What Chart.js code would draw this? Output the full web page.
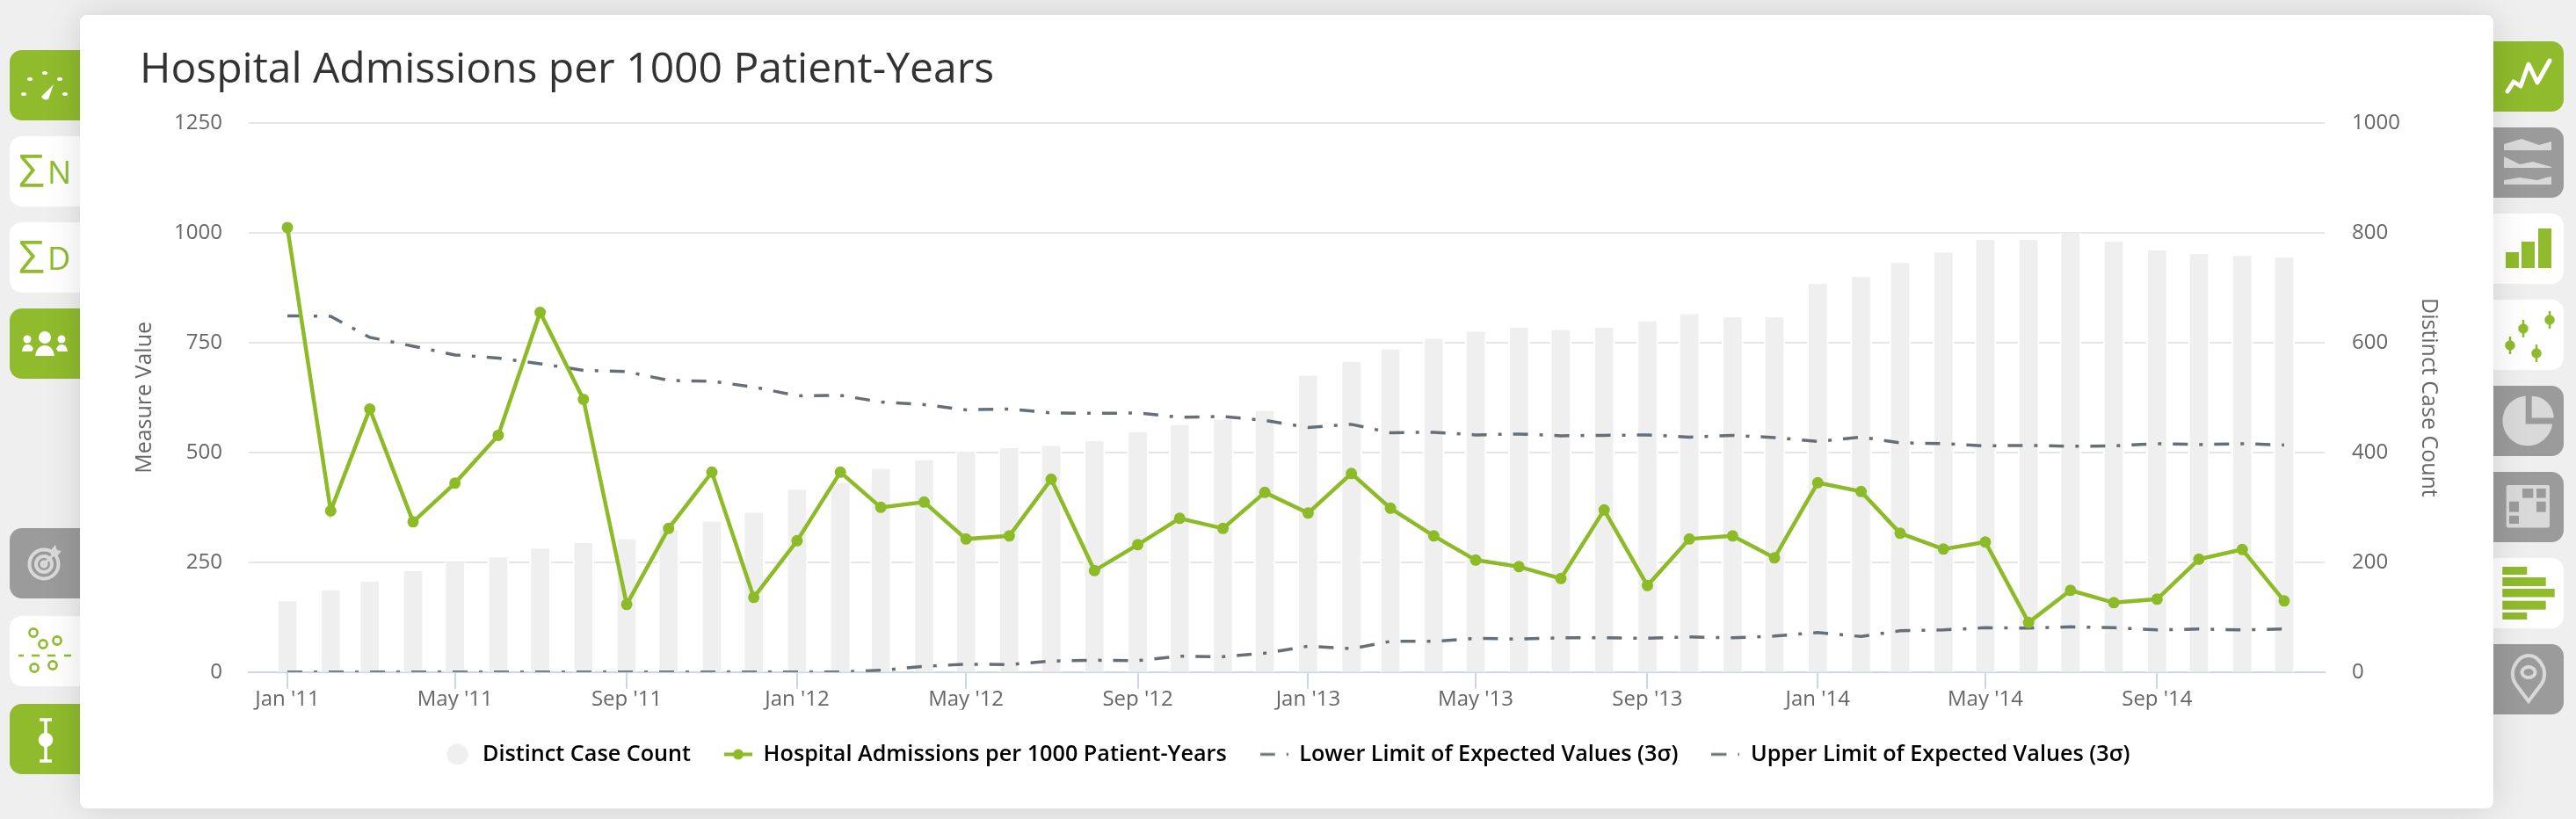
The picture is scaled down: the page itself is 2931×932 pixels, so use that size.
<!DOCTYPE html>
<html>
<head>
<meta charset="utf-8">
<title>Hospital Admissions per 1000 Patient-Years</title>
<script src="https://cdn.jsdelivr.net/npm/chart.js@4"></script>
<style>
  html, body { margin: 0; padding: 0; width: 2931px; height: 932px; overflow: hidden; background: #efefef; font-family: "Open Sans", sans-serif; }
  .tab { position: absolute; width: 80px; height: 80px; }
  .tab svg { display: block; position: absolute; left: 0; top: 0; }
  .left { left: 11px; border-radius: 14px 0 0 14px; }
  .right { left: 2837px; border-radius: 0 14px 14px 0; }
  .green { background: #8fbb2d; }
  .grey { background: #9b9b9b; }
  .white { background: #fff; }
  #card { position: absolute; left: 91px; top: 17px; width: 2746px; height: 903px; background: #fff; border-radius: 8px; box-shadow: 0 0 40px rgba(0,0,0,.13); }
  #chart { position: absolute; left: 0; top: 0; }
</style>
</head>
<body>

<!-- left tabs -->
<div class="tab left green" style="top:57px"><svg width="80" height="80" fill="#fff">
  <ellipse cx="23" cy="33" rx="3" ry="2"/><ellipse cx="40" cy="26" rx="3" ry="2"/><ellipse cx="57" cy="33" rx="3" ry="2"/>
  <ellipse cx="16" cy="50" rx="3" ry="2"/><ellipse cx="63" cy="50" rx="3" ry="2"/>
  <path d="M36 53 L50 39 L44 56 Q39 58 36 53 Z"/></svg></div>
<div class="tab left white" style="top:155px"><svg width="80" height="80" fill="#8fbb2d" font-family="Open Sans">
  <text x="10" y="58" font-size="52" font-weight="400">Σ</text><text x="43" y="54" font-size="36" font-weight="400">N</text></svg></div>
<div class="tab left white" style="top:253px"><svg width="80" height="80" fill="#8fbb2d" font-family="Open Sans">
  <text x="10" y="58" font-size="52" font-weight="400">Σ</text><text x="43" y="54" font-size="36" font-weight="400">D</text></svg></div>
<div class="tab left green" style="top:351px"><svg width="80" height="80" fill="#fff">
  <circle cx="40" cy="33" r="7"/><path d="M29 54 Q31 42 40 42 Q49 42 51 54 Z"/>
  <circle cx="20" cy="35" r="4.5"/><path d="M14 49 Q15 41 20 41 Q25 41 27 46 L25 49 Z"/>
  <circle cx="59" cy="35" r="4.5"/><path d="M66 49 Q65 41 59 41 Q55 41 53 46 L55 49 Z"/></svg></div>
<div class="tab left grey" style="top:601px"><svg width="80" height="80" fill="none" stroke="#d9d9d9" stroke-width="4">
  <circle cx="39" cy="41" r="16.5"/><circle cx="39" cy="41" r="9"/><circle cx="39" cy="41" r="2.5"/>
  <path d="M39 41 L50 30" stroke-width="3"/><path d="M47 25 L52 19 L54 25 L59 26 L53 33 L47 31 Z" fill="#d9d9d9" stroke="none"/></svg></div>
<div class="tab left white" style="top:701px"><svg width="80" height="80" fill="none" stroke="#8fbb2d" stroke-width="2.6">
  <circle cx="27" cy="19" r="4.6"/><circle cx="38" cy="32" r="4.6"/><circle cx="54" cy="28" r="4.6"/>
  <circle cx="28" cy="59" r="4.6"/><circle cx="49" cy="56" r="4.6"/>
  <path d="M10 45H16M25 45H34M43 45H52M62 45H70"/></svg></div>
<div class="tab left green" style="top:801px"><svg width="80" height="80" fill="#fff" stroke="#fff" stroke-width="3.5">
  <path d="M34 18H48M41 18V65M34 65H48" fill="none"/><circle cx="41" cy="41" r="6.5"/></svg></div>

<!-- right tabs -->
<div class="tab right green" style="top:47px"><svg width="80" height="80" fill="none" stroke="#fff" stroke-width="5" stroke-linecap="round" stroke-linejoin="round">
  <path d="M16 57 L23 46 L31 51 L40 26 L50 47 L64 22"/></svg></div>
<div class="tab right grey" style="top:145px"><svg width="80" height="80" fill="#d9d9d9">
  <path d="M12 19 L32 13 L52 20 L66 16 V26 H12 Z"/><path d="M12 33 L30 42 L45 39 L66 45 V46 H12 Z"/><path d="M12 60 L30 57 L50 60 L60 57 L66 56 V65 H12 Z"/></svg></div>
<div class="tab right white" style="top:243px"><svg width="80" height="80" fill="#8fbb2d">
  <rect x="14" y="44" width="15" height="18"/><rect x="32" y="32" width="15" height="30"/><rect x="51" y="17" width="15" height="45"/></svg></div>
<div class="tab right white" style="top:341px"><svg width="80" height="80" fill="#8fbb2d" stroke="#8fbb2d" stroke-width="2.5">
  <circle cx="19" cy="52" r="4.5"/><path d="M19 42V62"/><circle cx="34" cy="33" r="4.5"/><path d="M34 23V43"/>
  <circle cx="64" cy="23" r="4.5"/><path d="M64 13V33"/><circle cx="49" cy="61" r="4.5"/><path d="M49 51V71"/></svg></div>
<div class="tab right grey" style="top:439px"><svg width="80" height="80" fill="#d9d9d9">
  <path d="M36.7 43.5 V11.4 A28.5 28.5 0 1 0 67.2 43.5 Z"/><path d="M43.7 36.6 V11.7 A25 25 0 0 1 68.7 36.6 Z"/></svg></div>
<div class="tab right grey" style="top:537px"><svg width="80" height="80">
  <rect x="14.7" y="15" width="49.3" height="48.5" rx="2" fill="#d9d9d9"/>
  <g fill="#9b9b9b"><rect x="33" y="19" width="12.3" height="10.6"/><rect x="49" y="19" width="10.7" height="10.6"/><rect x="49" y="33.7" width="10.7" height="11.9"/>
  <rect x="18" y="33.7" width="11" height="11.9"/><rect x="18" y="49.8" width="11" height="9.2"/></g></svg></div>
<div class="tab right white" style="top:635px"><svg width="80" height="80" fill="#8fbb2d">
  <rect x="10.3" y="10" width="28" height="9"/><rect x="10.3" y="22" width="49.4" height="10"/><rect x="10.3" y="35" width="59.4" height="9.5"/>
  <rect x="10.3" y="48.7" width="49.4" height="10"/><rect x="10.3" y="62" width="28" height="8"/></svg></div>
<div class="tab right grey" style="top:733px"><svg width="80" height="80" fill="none" stroke="#d9d9d9" stroke-width="4">
  <path d="M40 65 L25 45 Q20 37 23 27 Q29 13 40 13 Q51 13 57 27 Q60 37 55 45 Z"/><ellipse cx="40" cy="32" rx="7.5" ry="6"/></svg></div>

<div id="card"><canvas id="chart" width="2746" height="903"></canvas></div>

<script>
// --- Data ---
const months = [
  "2011-01","2011-02","2011-03","2011-04","2011-05","2011-06","2011-07","2011-08","2011-09","2011-10","2011-11","2011-12",
  "2012-01","2012-02","2012-03","2012-04","2012-05","2012-06","2012-07","2012-08","2012-09","2012-10","2012-11","2012-12",
  "2013-01","2013-02","2013-03","2013-04","2013-05","2013-06","2013-07","2013-08","2013-09","2013-10","2013-11","2013-12",
  "2014-01","2014-02","2014-03","2014-04","2014-05","2014-06","2014-07","2014-08","2014-09","2014-10","2014-11","2014-12"
];
const tickLabels = ["Jan '11","May '11","Sep '11","Jan '12","May '12","Sep '12","Jan '13","May '13","Sep '13","Jan '14","May '14","Sep '14"];

const caseCount = [
  129,149,165,184,200,209,225,235,242,259,274,290,
  332,344,370,386,402,408,412,421,437,450,460,476,
  540,565,588,607,620,627,623,627,639,652,646,646,
  707,720,745,764,787,787,800,784,768,761,758,755
];
const admissions = [
  1012,367,599,342,430,539,819,621,154,327,455,170,
  299,455,375,387,303,310,439,231,290,350,327,409,
  362,452,373,310,255,240,213,369,197,303,310,260,
  431,411,316,280,296,113,186,158,166,257,279,162
];
const lowerLimit = [
  0,0,0,0,0,0,0,0,0,0,0,0,
  0,0,4,13,18,17,25,27,26,36,35,43,
  59,53,70,70,77,75,78,78,77,80,78,82,
  90,81,94,96,101,100,103,101,96,98,96,98
];
const upperLimit = [
  811,810,762,742,722,715,702,687,684,664,662,649,
  629,630,615,609,597,599,590,589,590,580,582,573,
  557,564,545,546,540,542,538,539,540,535,539,534,
  525,535,522,520,515,516,514,515,520,518,520,517
];

const GREEN = "#8dbb27";
const DARK = "#666e78";
const DASH = [17, 13, 4, 13];
const DAY = 86400000;
const FONT = "'Open Sans', sans-serif";

const monthToMs = (m) => Date.UTC(+m.slice(0, 4), +m.slice(5) - 1, 1);
const points = (values) => values.map((v, i) => ({ x: monthToMs(months[i]), y: v }));
const tickValues = tickLabels.map((_, i) => monthToMs(months[i * 4]));

// --- Legend symbols ---
function symbol(draw) {
  const c = document.createElement("canvas");
  c.width = 32; c.height = 24;
  draw(c.getContext("2d"));
  return c;
}
const barSymbol = symbol((g) => {
  g.fillStyle = "#efefef";
  g.beginPath(); g.arc(16, 12, 12, 0, Math.PI * 2); g.fill();
});
const lineSymbol = symbol((g) => {
  g.fillStyle = GREEN;
  g.fillRect(0, 10, 32, 4);
  g.beginPath(); g.arc(16, 12, 6, 0, Math.PI * 2); g.fill();
});
const dashSymbol = symbol((g) => {
  g.strokeStyle = DARK; g.lineWidth = 3; g.setLineDash(DASH);
  g.beginPath(); g.moveTo(0, 12); g.lineTo(32, 12); g.stroke();
});
const legendSymbols = [barSymbol, lineSymbol, dashSymbol, dashSymbol];

// --- Chart ---
new Chart(document.getElementById("chart"), {
  type: "bar",
  data: {
    datasets: [
      {
        type: "bar", label: "Distinct Case Count", data: points(caseCount), yAxisID: "y1", order: 4,
        backgroundColor: "#efefef", borderColor: "#ffffff", borderWidth: { left: 2, right: 2, top: 0, bottom: 0 }, barThickness: 24
      },
      {
        type: "line", label: "Hospital Admissions per 1000 Patient-Years", data: points(admissions), yAxisID: "y", order: 1,
        borderColor: GREEN, backgroundColor: GREEN, borderWidth: 4.5, pointRadius: 6.5, pointBorderWidth: 0, tension: 0
      },
      {
        type: "line", label: "Lower Limit of Expected Values (3σ)", data: points(lowerLimit), yAxisID: "y", order: 2,
        borderColor: DARK, borderWidth: 3.5, borderDash: DASH, pointRadius: 0, tension: 0
      },
      {
        type: "line", label: "Upper Limit of Expected Values (3σ)", data: points(upperLimit), yAxisID: "y", order: 3,
        borderColor: DARK, borderWidth: 3.5, borderDash: DASH, pointRadius: 0, tension: 0
      }
    ]
  },
  options: {
    responsive: false,
    animation: false,
    devicePixelRatio: 1,
    layout: { padding: { left: 68, right: 68, top: 0, bottom: 39 } },
    plugins: {
      tooltip: { enabled: false },
      title: {
        display: true,
        text: "Hospital Admissions per 1000 Patient-Years",
        align: "start",
        color: "#333333",
        font: { family: FONT, size: 48, weight: "400" },
        padding: { top: 35, bottom: 30.4 }
      },
      legend: {
        position: "bottom",
        labels: {
          usePointStyle: true,
          pointStyleWidth: 32,
          padding: 38,
          color: "#3c3c3c",
          font: { family: FONT, size: 25.2, weight: "600" },
          generateLabels: (chart) => chart.data.datasets.map((ds, i) => ({
            text: ds.label, pointStyle: legendSymbols[i], datasetIndex: i, hidden: false, lineWidth: 0
          }))
        }
      }
    },
    scales: {
      x: {
        type: "linear",
        offset: false,
        min: monthToMs(months[0]) - 27.7 * DAY,
        max: monthToMs(months[0]) + 1459 * DAY,
        grid: { offset: false, drawOnChartArea: false, drawTicks: true, tickLength: 19, tickColor: "#ccd6eb", tickWidth: 2, lineWidth: 2 },
        border: { color: "#ccd6eb", width: 2 },
        afterBuildTicks: (scale) => { scale.ticks = tickValues.map((value) => ({ value })); },
        afterFit: (scale) => { scale.height = 43; },
        ticks: {
          autoSkip: false, maxRotation: 0, padding: -2, color: "#666666",
          font: { family: FONT, size: 24 },
          callback: (v) => tickLabels[tickValues.indexOf(v)]
        }
      },
      y: {
        position: "left", min: 0, max: 1250,
        grid: { color: "#e6e6e6", lineWidth: 2, drawTicks: false },
        border: { display: false },
        afterFit: (scale) => { scale.width = 124; },
        ticks: { stepSize: 250, padding: 30, color: "#666666", font: { family: FONT, size: 24 }, callback: (v) => String(v) },
        title: { display: true, text: "Measure Value", color: "#666666", font: { family: FONT, size: 25 }, padding: { top: -9.4, bottom: 0 } }
      },
      y1: {
        position: "right", min: 0, max: 1000,
        grid: { display: false, drawTicks: false },
        border: { display: false },
        afterFit: (scale) => { scale.width = 124; },
        ticks: { stepSize: 200, padding: 31, color: "#666666", font: { family: FONT, size: 24 }, callback: (v) => String(v) },
        title: { display: true, text: "Distinct Case Count", color: "#666666", font: { family: FONT, size: 25 }, padding: { top: -9.4, bottom: 0 } }
      }
    }
  }
});
</script>
</body>
</html>
